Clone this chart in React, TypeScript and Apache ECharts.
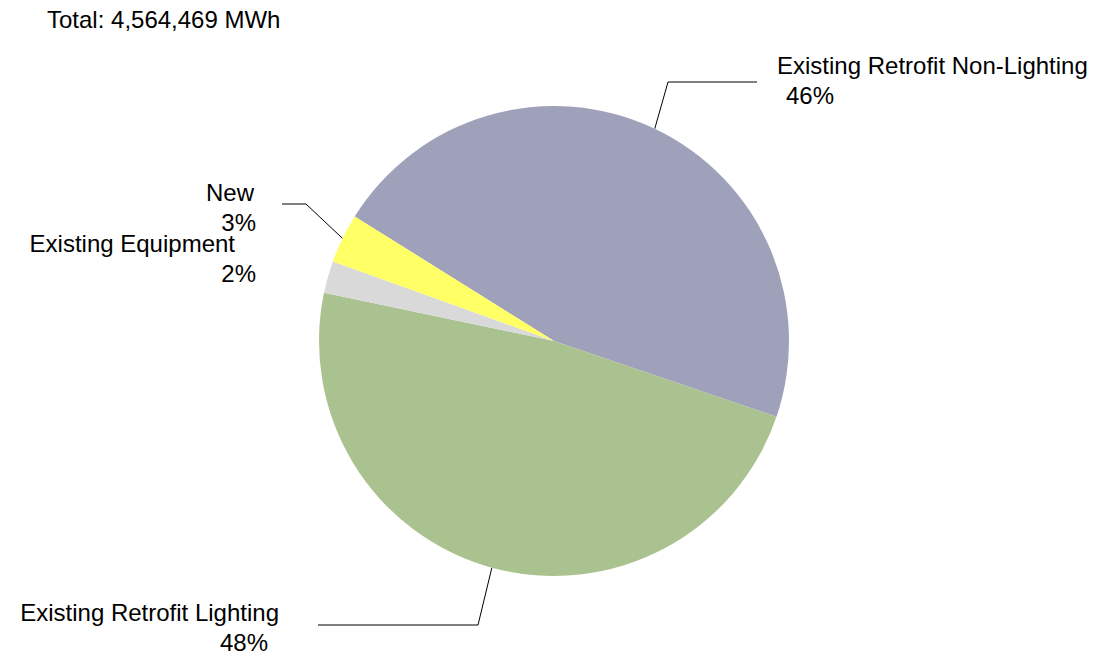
import React, { useEffect, useRef } from "react";
import * as echarts from "echarts";

// Energy savings by program component (MWh)
const CATEGORIES = [
  "Existing Retrofit Non-Lighting",
  "Existing Retrofit Lighting",
  "Existing Equipment",
  "New",
];
const VALUES_MWH = [2114720, 2194597, 99962, 155190];
const TOTAL_MWH = 4564469;
const COLORS = ["#9FA1BB", "#AAC290", "#D9D9D9", "#FFFF66"];

const FONT = "'Liberation Sans', Arial, Helvetica, sans-serif";
const CENTER: [number, number] = [554, 341];
const RADIUS = 235;
const START_ANGLE = 148;

// Label box placement and leader-line elbows (in px)
const LABEL_LAYOUT = [
  { x: 777, y: 50, align: "left", namePad: 0, pctPad: 9, line: [[668, 82], [757, 82]] },
  { x: 279, y: 597, align: "right", namePad: 0, pctPad: 11, line: [[478, 625], [318, 625]] },
  { x: 256, y: 228, align: "right", namePad: 21, pctPad: 0, line: null },
  { x: 256, y: 177, align: "right", namePad: 2, pctPad: 0, line: [[306, 204], [282, 204]] },
];

const fmtInt = (n: number) => n.toLocaleString("en-US");

// point on the pie rim at the middle angle of slice i
function rimPoint(i: number): [number, number] {
  const sum = VALUES_MWH.reduce((a, b) => a + b, 0);
  let before = 0;
  for (let k = 0; k < i; k++) before += VALUES_MWH[k];
  const mid = START_ANGLE - ((before + VALUES_MWH[i] / 2) / sum) * 360;
  const rad = (mid * Math.PI) / 180;
  return [CENTER[0] + RADIUS * Math.cos(rad), CENTER[1] - RADIUS * Math.sin(rad)];
}

export default function App() {
  const ref = useRef<HTMLDivElement>(null);

  useEffect(() => {
    if (!ref.current) return;
    const chart = echarts.init(ref.current, undefined, { renderer: "svg" });
    const sum = VALUES_MWH.reduce((a, b) => a + b, 0);

    const data = CATEGORIES.map((name, i) => {
      const lay = LABEL_LAYOUT[i];
      const left = lay.align === "left";
      const pad = (p: number) => (left ? [0, 0, 0, p] : [0, p, 0, 0]);
      return {
        name,
        value: VALUES_MWH[i],
        itemStyle: { color: COLORS[i] },
        labelLine: { show: !!lay.line },
        label: {
          rich: {
            n: { fontFamily: FONT, fontSize: 24, color: "#000", lineHeight: 30, padding: pad(lay.namePad) },
            p: { fontFamily: FONT, fontSize: 24, color: "#000", lineHeight: 30, padding: pad(lay.pctPad) },
          },
        },
      };
    });

    chart.setOption({
      animation: false,
      backgroundColor: "#ffffff",
      title: {
        text: `Total: ${fmtInt(TOTAL_MWH)} MWh`,
        left: 47,
        top: 7,
        padding: 0,
        textStyle: {
          fontFamily: FONT,
          fontSize: 24,
          fontWeight: "normal",
          color: "#000",
          lineHeight: 24,
        },
      },
      series: [
        {
          type: "pie",
          center: CENTER,
          radius: RADIUS,
          startAngle: START_ANGLE,
          clockwise: true,
          silent: true,
          emphasis: { disabled: true },
          itemStyle: { borderWidth: 0 },
          label: {
            show: true,
            position: "outside",
            fontFamily: FONT,
            fontSize: 24,
            color: "#000",
            formatter: (p: any) =>
              `{n|${p.name}}\n{p|${Math.round((p.value / sum) * 100)}%}`,
          },
          labelLine: {
            show: true,
            smooth: false,
            lineStyle: { color: "#000", width: 1 },
          },
          labelLayout: (params: any) => {
            const i = params.dataIndex;
            const lay = LABEL_LAYOUT[i];
            const out: any = {
              x: lay.x,
              y: lay.y,
              align: lay.align,
              verticalAlign: "top",
            };
            if (lay.line) {
              out.labelLinePoints = [rimPoint(i), lay.line[0], lay.line[1]];
            }
            return out;
          },
          data,
        },
      ],
    });

    return () => chart.dispose();
  }, []);

  return (
    <div
      ref={ref}
      style={{ position: "fixed", left: 0, top: 0, width: 1111, height: 660, background: "#fff" }}
    />
  );
}
